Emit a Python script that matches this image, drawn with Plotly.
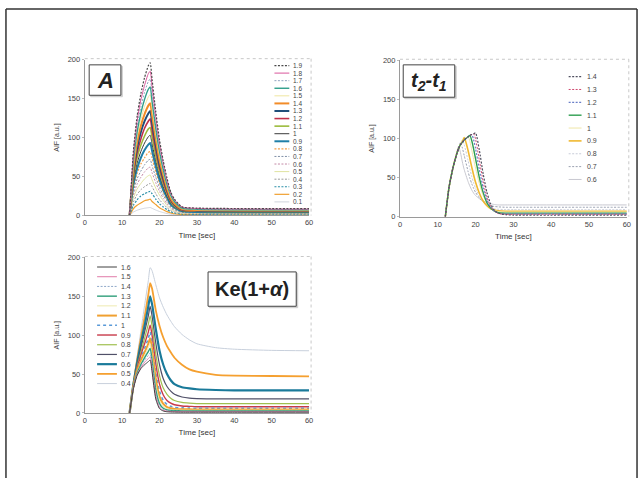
import plotly.graph_objects as go

W, H = 644, 483

# ---------------- Panel A (scaling of amplitude A) ----------------
time_A = [12, 13, 14, 15, 16, 17, 17.5, 18, 19, 20, 21, 22, 23, 24, 26, 30, 60]
labels_A = ["1.9", "1.8", "1.7", "1.6", "1.5", "1.4", "1.3", "1.2", "1.1", "1",
            "0.9", "0.8", "0.7", "0.6", "0.5", "0.4", "0.3", "0.2", "0.1"]
aif_A_19 = [0, 82, 127, 156, 177, 192, 196, 175, 133, 97, 70, 48, 30, 21, 11, 9.5, 8.7]
aif_A_18 = [0, 77, 121, 148, 167, 182, 185, 166, 126, 92, 67, 45, 29, 20, 11, 9, 8.3]
aif_A_17 = [0, 73, 114, 139, 158, 172, 175, 156, 119, 87, 63, 43, 27, 19, 10, 8.5, 7.8]
aif_A_16 = [0, 69, 107, 131, 149, 162, 165, 147, 112, 82, 59, 40, 26, 18, 9.6, 8, 7.4]
aif_A_15 = [0, 65, 101, 123, 140, 152, 155, 138, 105, 77, 56, 38, 24, 17, 9, 7.5, 6.9]
aif_A_14 = [0, 60, 94, 115, 130, 141, 144, 129, 98, 71, 52, 35, 22, 15, 8.4, 7, 6.4]
aif_A_13 = [0, 56, 87, 107, 121, 131, 134, 120, 91, 66, 48, 33, 21, 14, 7.8, 6.5, 6]
aif_A_12 = [0, 52, 80, 98, 112, 121, 124, 110, 84, 61, 44, 30, 19, 13, 7.2, 6, 5.5]
aif_A_11 = [0, 47, 74, 90, 102, 111, 113, 101, 77, 56, 41, 28, 18, 12, 6.6, 5.5, 5.1]
aif_A_10 = [0, 43, 67, 82, 93, 101, 103, 92, 70, 51, 37, 25, 16, 11, 6, 5, 4.6]
aif_A_09 = [0, 39, 60, 74, 84, 91, 93, 83, 63, 46, 33, 23, 14, 9.9, 5.4, 4.5, 4.1]
aif_A_08 = [0, 34, 54, 66, 74, 81, 82, 74, 56, 41, 30, 20, 13, 8.8, 4.8, 4, 3.7]
aif_A_07 = [0, 30, 47, 57, 65, 71, 72, 64, 49, 36, 26, 18, 11, 7.7, 4.2, 3.5, 3.2]
aif_A_06 = [0, 26, 40, 49, 56, 61, 62, 55, 42, 31, 22, 15, 9.6, 6.6, 3.6, 3, 2.8]
aif_A_05 = [0, 22, 34, 41, 47, 51, 52, 46, 35, 26, 19, 13, 8, 5.5, 3, 2.5, 2.3]
aif_A_04 = [0, 17, 27, 33, 37, 40, 41, 37, 28, 20, 15, 10, 6.4, 4.4, 2.4, 2, 1.8]
aif_A_03 = [0, 13, 20, 25, 28, 30, 31, 28, 21, 15, 11, 7.5, 4.8, 3.3, 1.8, 1.5, 1.4]
aif_A_02 = [0, 8.6, 13, 16, 19, 20, 21, 18, 14, 10, 7.4, 5, 3.2, 2.2, 1.2, 1, 0.9]
aif_A_01 = [0, 4.3, 6.7, 8.2, 9.3, 10, 10.3, 9.2, 7, 5.1, 3.7, 2.5, 1.6, 1.1, 0.6, 0.5, 0.5]
series_A = [aif_A_19, aif_A_18, aif_A_17, aif_A_16, aif_A_15, aif_A_14, aif_A_13,
            aif_A_12, aif_A_11, aif_A_10, aif_A_09, aif_A_08, aif_A_07, aif_A_06,
            aif_A_05, aif_A_04, aif_A_03, aif_A_02, aif_A_01]

# ---------------- Panel t2-t1 ----------------
time_T = [12, 13, 14, 15, 15.5, 16, 16.5, 17, 18, 18.5, 19, 19.5, 20,
          21, 22, 23, 24, 25, 26, 28, 30, 60]
labels_T = ["1.4", "1.3", "1.2", "1.1", "1", "0.9", "0.8", "0.7", "0.6"]
aif_T_14 = [0, 38, 62, 80, 87, 92, 95, 98, 102, 104, 105, 106, 107, 85, 55, 31, 16, 8, 4.5, 2.5, 2, 2]
aif_T_13 = [0, 38, 62, 80, 87, 92, 95, 98, 102, 104, 105, 106, 99, 72, 45, 25, 13, 7, 4, 3, 3, 3]
aif_T_12 = [0, 38, 62, 80, 87, 92, 95, 98, 102, 104, 105, 98, 87, 60, 37, 21, 12, 7, 4.5, 3.5, 3.5, 3.5]
aif_T_11 = [0, 38, 62, 80, 87, 92, 95, 98, 102, 104, 97, 86, 74, 50, 31, 18, 11, 7, 5, 4.5, 4.5, 4.5]
aif_T_10 = [0, 38, 62, 80, 87, 92, 95, 98, 103, 96, 85, 73, 62, 42, 27, 17, 11, 8, 6.5, 6, 6, 6]
aif_T_09 = [0, 38, 62, 80, 87, 92, 96, 101, 85, 74, 63, 53, 44, 30, 20, 14, 10, 8.5, 7.5, 7, 7, 7]
aif_T_08 = [0, 38, 62, 80, 87, 93, 98, 92, 72, 61, 51, 43, 36, 26, 19, 14, 11.5, 10, 9.5, 9, 9, 9]
aif_T_07 = [0, 38, 62, 81, 88, 95, 88, 78, 58, 49, 42, 36, 31, 24, 19, 16, 14, 13, 12.5, 12, 12, 12]
aif_T_06 = [0, 38, 62, 82, 90, 82, 70, 60, 45, 39, 34, 30, 27, 23, 20, 18, 16.5, 15.5, 15, 15, 15, 15]
series_T = [aif_T_14, aif_T_13, aif_T_12, aif_T_11, aif_T_10, aif_T_09,
            aif_T_08, aif_T_07, aif_T_06]

# ---------------- Panel Ke(1+alpha) ----------------
time_K = [12, 13, 14, 15, 16, 17, 17.5, 18, 19, 20, 21, 22, 23, 24, 26, 28, 30, 35, 40, 50, 60]
labels_K = ["1.6", "1.5", "1.4", "1.3", "1.2", "1.1", "1", "0.9", "0.8",
            "0.7", "0.6", "0.5", "0.4"]
aif_K_16 = [0, 31, 48, 57, 62, 66, 68, 53, 18, 5.5, 2.5, 1.5, 1.2, 1.1, 1, 1, 1, 1, 1, 1, 1]
aif_K_15 = [0, 32, 49, 58, 65, 70, 72, 57, 21, 7, 3.3, 2.2, 1.8, 1.6, 1.5, 1.5, 1.5, 1.5, 1.5, 1.5, 1.5]
aif_K_14 = [0, 32, 50, 60, 68, 74, 77, 62, 25, 9, 4.5, 3, 2.4, 2.2, 2.1, 2, 2, 2, 2, 2, 2]
aif_K_13 = [0, 33, 51, 62, 71, 79, 83, 68, 30, 12, 6, 4, 3.2, 2.9, 2.7, 2.6, 2.5, 2.5, 2.5, 2.5, 2.5]
aif_K_12 = [0, 33, 52, 64, 74, 84, 89, 74, 36, 16, 8.5, 5.5, 4.3, 3.8, 3.6, 3.5, 3.5, 3.5, 3.5, 3.5, 3.5]
aif_K_11 = [0, 34, 54, 67, 78, 89, 96, 82, 44, 21, 11.5, 7.5, 6, 5.2, 4.8, 4.6, 4.5, 4.5, 4.5, 4.5, 4.5]
aif_K_10 = [0, 34, 55, 70, 83, 96, 104, 90, 52, 28, 16, 11, 8.5, 7.2, 6.5, 6.2, 6, 6, 6, 6, 6]
aif_K_09 = [0, 35, 57, 74, 89, 104, 113, 100, 63, 37, 23, 16, 12.5, 10.5, 9, 8.5, 8, 8, 8, 8, 8]
aif_K_08 = [0, 35, 59, 78, 96, 114, 125, 112, 76, 48, 32, 24, 19, 16, 13.5, 12.5, 12, 12, 12, 12, 12]
aif_K_07 = [0, 36, 61, 83, 104, 125, 137, 125, 90, 62, 44, 34, 28, 24, 20.5, 19, 18.5, 18, 18, 18, 18]
aif_K_06 = [0, 36, 64, 89, 112, 137, 150, 140, 108, 80, 62, 50, 42, 37, 33, 31.5, 30.5, 29.5, 29, 29, 29]
aif_K_05 = [0, 37, 68, 96, 123, 152, 167, 160, 132, 112, 97, 86, 78, 71, 62, 56, 53, 49, 48, 47.5, 47]
aif_K_04 = [0, 38, 72, 105, 138, 170, 187, 183, 165, 148, 136, 126, 118, 111, 101, 94, 89, 84, 82, 80.5, 80]
series_K = [aif_K_16, aif_K_15, aif_K_14, aif_K_13, aif_K_12, aif_K_11, aif_K_10,
            aif_K_09, aif_K_08, aif_K_07, aif_K_06, aif_K_05, aif_K_04]

x_ticks = [0, 10, 20, 30, 40, 50, 60]
y_ticks = [0, 50, 100, 150, 200]

# ---------------- styles ----------------
FD = "2px,1.5px"   # fine dash as in the scanned Excel chart
style_A = [("#4a4a4a", 1.2, FD), ("#d9569b", 1.0, "solid"), ("#8fa3bf", 1.0, FD),
           ("#2e9e8a", 1.4, "solid"), ("#efe6a0", 1.0, "solid"), ("#f28c28", 2.0, "solid"),
           ("#1f4e79", 2.0, "solid"), ("#c0304a", 1.6, "solid"), ("#9bbb3b", 1.6, "solid"),
           ("#3a3a3a", 1.0, "solid"), ("#1f7fa8", 2.0, "solid"), ("#f5a04a", 1.2, FD),
           ("#7f8fa6", 1.0, FD), ("#c48aa6", 1.0, FD), ("#dfe3a0", 1.0, "solid"),
           ("#9a9a9a", 1.0, FD), ("#2a8fa8", 1.2, FD), ("#f0a030", 1.2, "solid"),
           ("#d0d4dc", 1.0, "solid")]
style_T = [("#505060", 1.2, FD), ("#d04a70", 1.0, FD), ("#6a7fc8", 1.2, FD),
           ("#2e9e50", 1.4, "solid"), ("#efe6a8", 1.0, "solid"), ("#f0b830", 1.6, "solid"),
           ("#c8ccd8", 1.0, FD), ("#9aa0b0", 1.0, FD), ("#c8c8d0", 1.0, "solid")]
style_K = [("#404040", 1.0, "solid"), ("#e07aa8", 1.0, "solid"), ("#8fa8c8", 1.0, FD),
           ("#2e9e7a", 1.4, "solid"), ("#eeeab0", 1.0, "solid"), ("#f0a030", 2.0, "solid"),
           ("#5a9ad8", 1.6, "dot"), ("#c83a4a", 1.4, "solid"), ("#a0c050", 1.2, "solid"),
           ("#505068", 1.2, "solid"), ("#1a7a9a", 2.2, "solid"), ("#f5a030", 1.8, "solid"),
           ("#c8d0dc", 1.0, "solid")]

def px(x):
    return x / W

def py(y):
    return 1 - y / H

fig = go.Figure()

panels = [
    # axis suffix, times, series, styles, x-domain px, y px (200 -> top, 0 -> bottom)
    ("", time_A, series_A, style_A, (83.5, 310), (56.7, 215.5)),
    ("2", time_T, series_T, style_T, (401.7, 630.7), (57.3, 216.7)),
    ("3", time_K, series_K, style_K, (83.5, 310), (258.3, 416.7)),
]

layout = dict(
    width=W, height=H, margin=dict(l=0, r=0, t=0, b=0),
    paper_bgcolor="white", plot_bgcolor="white", showlegend=False,
    font=dict(family="Liberation Sans, Arial, sans-serif", color="#444"),
)
shapes = []
annotations = []

for suf, tt, series, styles, (x0, x1), (ytop, ybot) in panels:
    for vals, (c, w, d) in zip(series[::-1], styles[::-1]):
        fig.add_trace(go.Scatter(
            x=tt, y=vals, mode="lines", xaxis="x" + suf, yaxis="y" + suf,
            line=dict(color=c, width=w, dash=d, shape="spline", smoothing=0.6),
            hoverinfo="skip"))
    layout["xaxis" + suf] = dict(
        domain=[px(x0), px(x1)], range=[0, 60], anchor="y" + suf,
        tickvals=x_ticks, showgrid=False, zeroline=False, showline=True,
        linecolor="#9a9a9a", linewidth=1, ticks="", tickfont=dict(size=7.5, color="#444"),
        title=dict(text="Time [sec]", font=dict(size=8, color="#333"), standoff=5))
    layout["yaxis" + suf] = dict(
        domain=[py(ybot), py(ytop)], range=[0, 200], anchor="x" + suf,
        tickvals=y_ticks, showgrid=False, zeroline=False, showline=True,
        linecolor="#9a9a9a", linewidth=1, ticks="outside", ticklen=2, tickcolor="#bbb",
        tickfont=dict(size=7.5, color="#444"),
        title=dict(text="AIF [a.u.]", font=dict(size=7, color="#444"), standoff=7))
    # dotted plot-area frame on top and right
    shapes.append(dict(type="line", xref="paper", yref="paper",
                       x0=px(x0), x1=px(x1 + 2), y0=py(ytop - 1), y1=py(ytop - 1),
                       line=dict(color="#c8c8c8", width=1, dash="dot")))
    shapes.append(dict(type="line", xref="paper", yref="paper",
                       x0=px(x1 + 2), x1=px(x1 + 2), y0=py(ytop - 1), y1=py(ybot),
                       line=dict(color="#c8c8c8", width=1, dash="dot")))

# ---------------- manual legends ----------------
legend_specs = [
    (labels_A, style_A, 275, 290, 292, 62.7, 7.72, 6.5),
    (labels_T, style_T, 572, 585, 588, 74.0, 13.1, 7),
    (labels_K, style_K, 96, 116, 118, 268.0, 9.9, 7),
]
for labs, styles, lx0, lx1, tx, y0, dy, fs in legend_specs:
    for i, (lab, (c, w, d)) in enumerate(zip(labs, styles)):
        yy = y0 + i * dy
        shapes.append(dict(type="line", xref="paper", yref="paper",
                           x0=px(lx0), x1=px(lx1), y0=py(yy), y1=py(yy),
                           line=dict(color=c, width=w, dash=d)))
        annotations.append(dict(text=lab, xref="paper", yref="paper",
                                x=px(tx), y=py(yy), xanchor="left", yanchor="middle",
                                showarrow=False, font=dict(size=fs, color="#444")))

# ---------------- label boxes ----------------
boxes = [
    ((88, 62, 120, 93), "<b><i>A</i></b>", 22),
    ((405, 62, 457, 95), "<b><i>t<sub>2</sub>-t<sub>1</sub></i></b>", 20),
    ((208, 273, 297, 308), "<b>Ke(1+<i>α</i>)</b>", 20),
]
for (bx0, by0, bx1, by1), txt, fs in boxes:
    shapes.append(dict(type="rect", xref="paper", yref="paper",
                       x0=px(bx0 + 1.5), x1=px(bx1 + 1.5), y0=py(by0 + 1.5), y1=py(by1 + 1.5),
                       line=dict(color="#cfcfcf", width=1), fillcolor="#cfcfcf", layer="above"))
    shapes.append(dict(type="rect", xref="paper", yref="paper",
                       x0=px(bx0), x1=px(bx1), y0=py(by0), y1=py(by1),
                       line=dict(color="#444", width=1), fillcolor="white", layer="above"))
    annotations.append(dict(text=txt, xref="paper", yref="paper",
                            x=px((bx0 + bx1) / 2), y=py((by0 + by1) / 2),
                            xanchor="center", yanchor="middle", showarrow=False,
                            font=dict(size=fs, color="#222")))

# ---------------- page frame ----------------
shapes += [
    dict(type="line", xref="paper", yref="paper", x0=px(4), x1=px(641), y0=py(5), y1=py(5),
         line=dict(color="#333", width=1.5)),
    dict(type="line", xref="paper", yref="paper", x0=px(4), x1=px(4), y0=py(5), y1=0,
         line=dict(color="#333", width=1.5)),
    dict(type="line", xref="paper", yref="paper", x0=px(641), x1=px(641), y0=py(5), y1=0,
         line=dict(color="#333", width=1.5)),
]

layout["shapes"] = shapes
layout["annotations"] = annotations
fig.update_layout(**layout)
fig.write_html("out.html")
